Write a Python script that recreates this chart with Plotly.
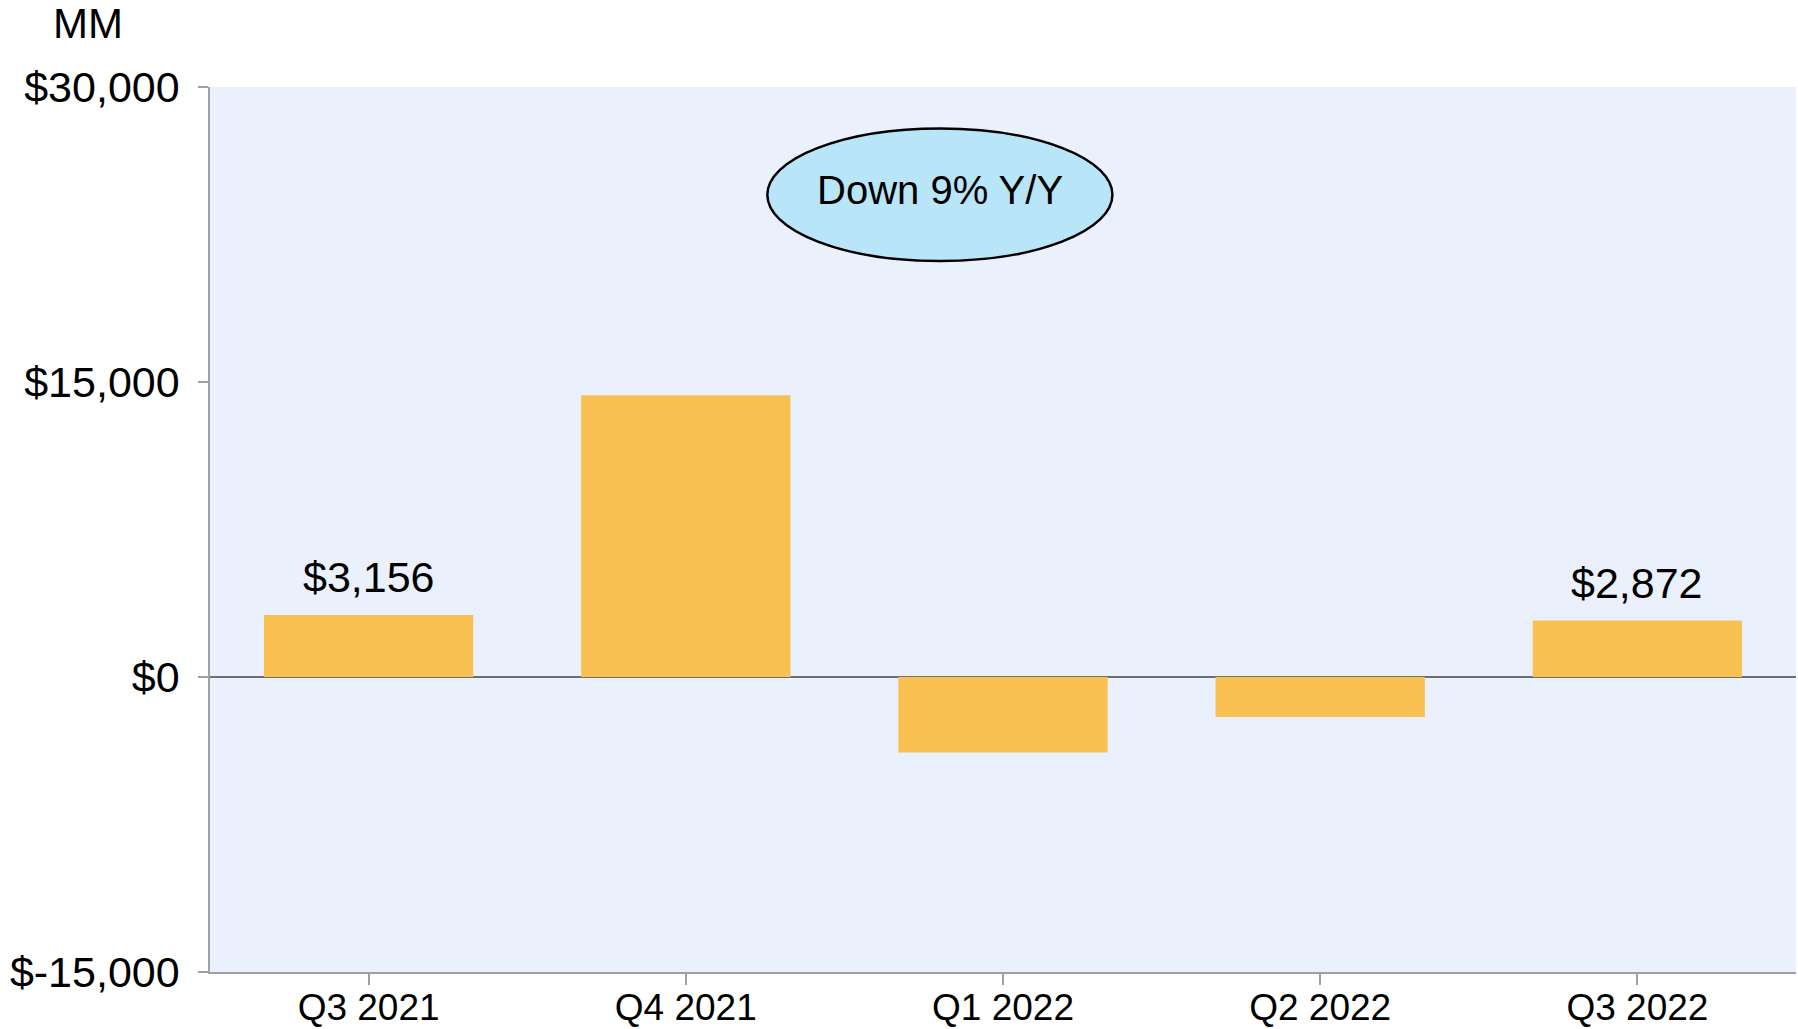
import plotly.graph_objects as go

categories = ["Q3 2021", "Q4 2021", "Q1 2022", "Q2 2022", "Q3 2022"]
net_income = [3156, 14323, -3844, -2028, 2872]
bar_labels = ["$3,156", "", "", "", "$2,872"]
y_tickvals = [-15000, 0, 15000, 30000]
y_ticktext = ["$-15,000", "$0", "$15,000", "$30,000"]
callout_text = "Down 9% Y/Y"
unit_label = "MM"

FONT = "Liberation Sans, Arial, sans-serif"
BAR_COLOR = "#F9C152"
BG_COLOR = "#EAF1FC"

fig = go.Figure()
fig.add_trace(go.Bar(
    x=categories, y=net_income,
    marker=dict(color=BAR_COLOR, line=dict(width=0)),
    hoverinfo="skip",
))

for cat, val, lab in zip(categories, net_income, bar_labels):
    if lab:
        fig.add_annotation(
            x=cat, y=val, text=lab, showarrow=False,
            xanchor="center", yanchor="bottom", yshift=12,
            font=dict(family=FONT, size=43, color="black"),
        )

# callout ellipse
fig.add_shape(
    type="circle", xref="x", yref="y",
    x0=1.257, x1=2.345, y0=21150, y1=27890,
    fillcolor="#B9E5F9", line=dict(color="black", width=2.5), layer="above",
)
fig.add_annotation(
    x=1.80, y=24780, xref="x", yref="y", text=callout_text, showarrow=False,
    xanchor="center", yanchor="middle",
    font=dict(family=FONT, size=40, color="black"),
)

fig.add_annotation(
    x=-0.077, y=1.072, xref="paper", yref="paper", text=unit_label, showarrow=False,
    xanchor="center", yanchor="middle",
    font=dict(family=FONT, size=42, color="black"),
)

fig.update_layout(
    width=1798, height=1029,
    margin=dict(l=210, r=2, t=87, b=57, autoexpand=False),
    paper_bgcolor="white", plot_bgcolor=BG_COLOR,
    bargap=0.34, showlegend=False,
    font=dict(family=FONT, color="black"),
)
fig.update_xaxes(
    type="category", showgrid=False, automargin=False,
    showline=True, linecolor="#A0A0A0", linewidth=1.5,
    ticks="outside", ticklen=11, tickcolor="#A0A0A0", tickwidth=1.5,
    tickfont=dict(family=FONT, size=37, color="black"),
    ticklabelstandoff=-9,
)
fig.update_yaxes(
    range=[-15000, 30000], tickvals=y_tickvals, ticktext=y_ticktext,
    showgrid=False, automargin=False,
    showline=True, linecolor="#A0A0A0", linewidth=1.5,
    ticks="outside", ticklen=10, tickcolor="#A0A0A0", tickwidth=1.5,
    tickfont=dict(family=FONT, size=43, color="black"),
    zeroline=True, zerolinecolor="#6E6E6E", zerolinewidth=2,
    ticklabelstandoff=10,
)

fig.write_html(
    "out.html",
    config={"displayModeBar": False},
    post_script="document.body.style.margin='0';document.body.style.overflow='hidden';",
)
